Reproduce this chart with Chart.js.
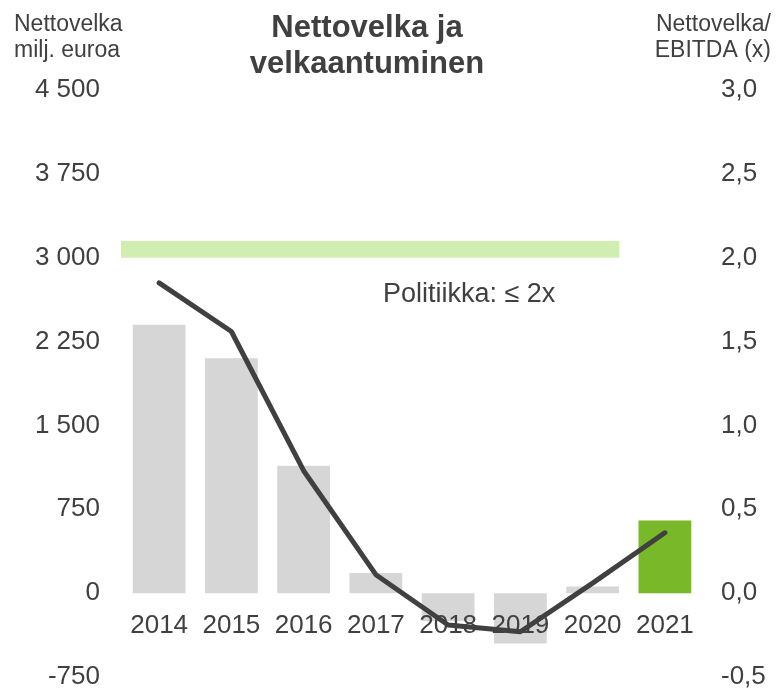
<!DOCTYPE html>
<html>
<head>
<meta charset="utf-8">
<script src="https://cdn.jsdelivr.net/npm/chart.js@4/dist/chart.umd.min.js"></script>
<style>
   html, body { margin: 0; padding: 0; background: #fff; }
   #wrap { width: 776px; height: 688px; position: relative; }
</style>
</head>
<body>
<div id="wrap"><canvas id="debt"></canvas></div>
<script>
const years = ['2014', '2015', '2016', '2017', '2018', '2019', '2020', '2021'];
const netDebt = [2400, 2100, 1140, 180, -250, -450, 60, 650];
const debtRatio = [1.85, 1.56, 0.73, 0.11, -0.19, -0.23, 0.06, 0.36];
const barColors = ['#d6d6d6', '#d6d6d6', '#d6d6d6', '#d6d6d6', '#d6d6d6', '#d6d6d6', '#d6d6d6', '#78b829'];
const policyBand = [2.0, 2.1];
const policyText = 'Politiikka: ≤ 2x';
const titleLines = ['Nettovelka ja', 'velkaantuminen'];
const leftTitle = ['Nettovelka', 'milj. euroa'];
const rightTitle = ['Nettovelka/', 'EBITDA (x)'];

const FONT = '"Liberation Sans", Arial, sans-serif';
const INK = '#404040';

// thousands separated by a space, finnish style
const fmtLeft = (v) => {
   const s = Math.abs(v).toString().replace(/\B(?=(\d{3})+(?!\d))/g, ' ');
   return (v < 0 ? '-' : '') + s;
};
const fmtRight = (v) => v.toFixed(1).replace('.', ',');

const decor = {
   id: 'decor',
   beforeDatasetsDraw(chart) {
      const { ctx, chartArea, scales } = chart;
      const x = scales.x;
      const yr = scales.y1;
      const step = x.getPixelForValue(1) - x.getPixelForValue(0);
      const top = yr.getPixelForValue(policyBand[1]);
      const bottom = yr.getPixelForValue(policyBand[0]);
      const right = x.getPixelForValue(6) + step * 0.37;
      ctx.save();
      ctx.fillStyle = '#d0eeb0';
      ctx.fillRect(chartArea.left - 2, top, right - chartArea.left + 2, bottom - top);
      ctx.fillStyle = INK;
      ctx.font = '27px ' + FONT;
      ctx.textAlign = 'left';
      ctx.textBaseline = 'middle';
      ctx.fillText(policyText, x.getPixelForValue(3) + 7, yr.getPixelForValue(1.78));
      ctx.restore();
   },
   afterDatasetDraw(chart, args) {
      if (args.index !== 0) return;
      const { ctx, scales } = chart;
      const y0 = scales.y.getPixelForValue(0);
      ctx.save();
      ctx.fillStyle = INK;
      ctx.font = '26px ' + FONT;
      ctx.textAlign = 'center';
      ctx.textBaseline = 'middle';
      years.forEach((yr, i) => {
         ctx.fillText(yr, scales.x.getPixelForValue(i), y0 + 33);
      });
      ctx.restore();
   },
   afterDraw(chart) {
      const { ctx } = chart;
      ctx.save();
      ctx.fillStyle = INK;
      ctx.textBaseline = 'alphabetic';
      ctx.font = 'bold 31px ' + FONT;
      ctx.textAlign = 'center';
      titleLines.forEach((t, i) => ctx.fillText(t, 367, 37 + i * 36));
      ctx.font = '23px ' + FONT;
      ctx.textAlign = 'left';
      leftTitle.forEach((t, i) => ctx.fillText(t, 14, 31 + i * 26));
      ctx.textAlign = 'right';
      rightTitle.forEach((t, i) => ctx.fillText(t, 771, 31 + i * 26));
      ctx.restore();
   },
};

const fitAxis = (width) => (s) => {
   s.width = width;
   s.paddingTop = 11;
   s.paddingBottom = 11;
};

new Chart(document.getElementById('debt'), {
   data: {
      labels: years,
      datasets: [
         {
            type: 'bar',
            label: 'Nettovelka',
            data: netDebt,
            backgroundColor: barColors,
            yAxisID: 'y',
            barPercentage: 0.73,
            categoryPercentage: 1,
            order: 1,
         },
         {
            type: 'line',
            label: 'Nettovelka/EBITDA',
            data: debtRatio,
            borderColor: INK,
            borderWidth: 5,
            borderCapStyle: 'round',
            borderJoinStyle: 'round',
            pointRadius: 0,
            tension: 0,
            yAxisID: 'y1',
            order: 0,
         },
      ],
   },
   options: {
      responsive: true,
      maintainAspectRatio: false,
      animation: false,
      layout: { padding: { top: 90, left: 5, right: 0, bottom: 11 } },
      plugins: {
         legend: { display: false },
         tooltip: { enabled: false },
      },
      scales: {
         x: {
            display: false,
            offset: true,
         },
         y: {
            position: 'left',
            min: -750,
            max: 4500,
            grid: { display: false, drawTicks: false },
            border: { display: false },
            ticks: {
               stepSize: 750,
               padding: 23,
               color: INK,
               font: { family: FONT, size: 26, lineHeight: 0.85 },
               callback: fmtLeft,
            },
            afterFit: fitAxis(118),
         },
         y1: {
            position: 'right',
            min: -0.5,
            max: 3.0,
            grid: { display: false, drawTicks: false },
            border: { display: false },
            ticks: {
               stepSize: 0.5,
               padding: 20,
               color: INK,
               font: { family: FONT, size: 26, lineHeight: 0.85 },
               callback: fmtRight,
            },
            afterFit: fitAxis(75),
         },
      },
   },
   plugins: [decor],
});
</script>
</body>
</html>
